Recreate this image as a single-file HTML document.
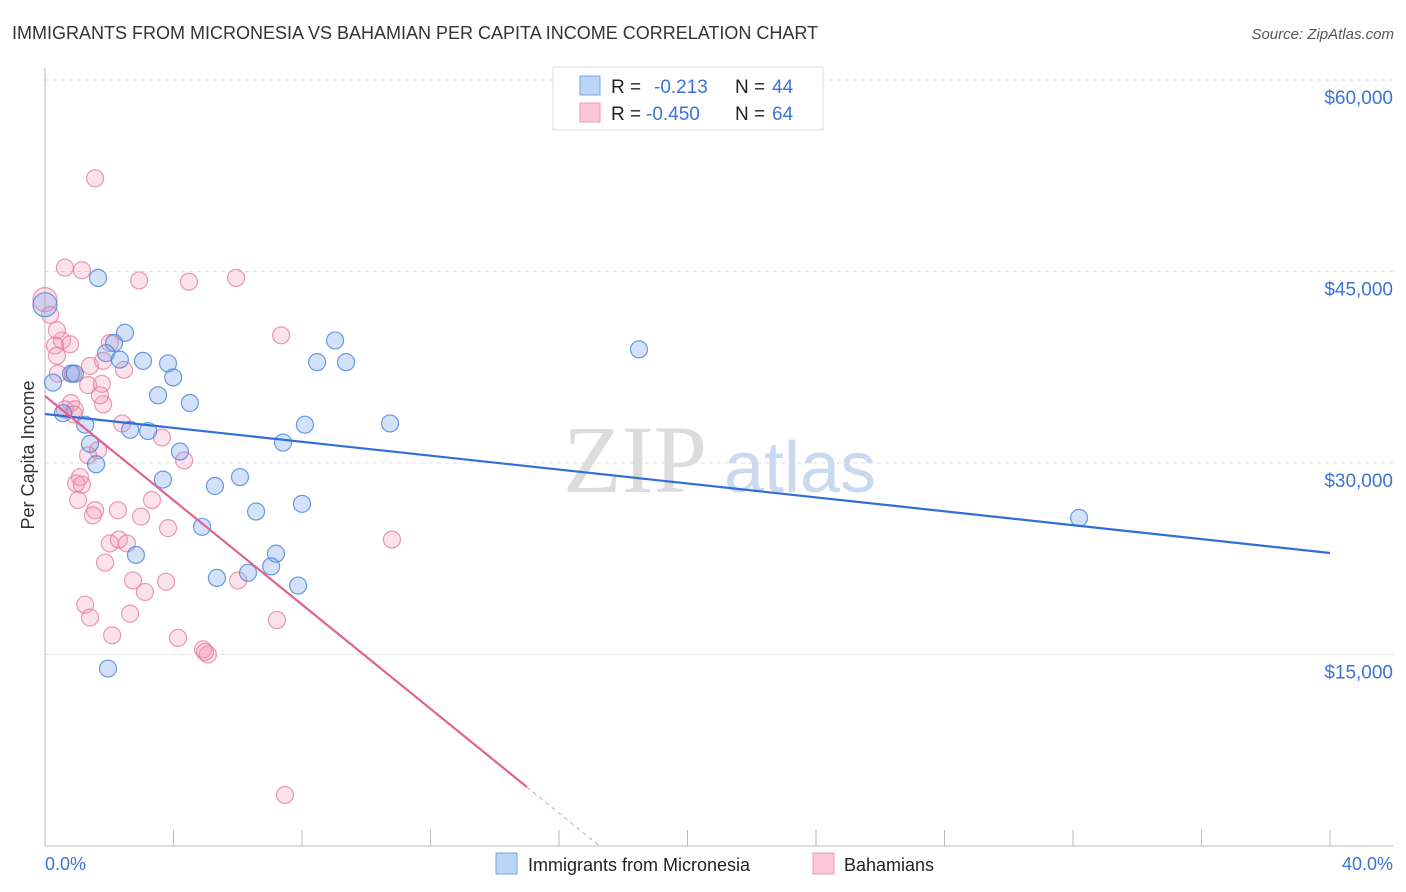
<!DOCTYPE html>
<html><head><meta charset="utf-8">
<style>
body{margin:0;background:#fff;font-family:"Liberation Sans",sans-serif;}
#wrap{position:relative;width:1406px;height:892px;overflow:hidden;}
</style></head>
<body>
<div id="wrap">
<svg id="chart" width="1406" height="892">
<text x="12" y="39" font-size="18" fill="#333">IMMIGRANTS FROM MICRONESIA VS BAHAMIAN PER CAPITA INCOME CORRELATION CHART</text>
<text x="1394" y="39" font-size="15" fill="#555" font-style="italic" text-anchor="end">Source: ZipAtlas.com</text>
<text x="635" y="492" font-size="96" fill="#dcdcdc" font-family="Liberation Serif,serif" text-anchor="middle">ZIP</text>
<text x="800" y="492" font-size="72" fill="#c9d9f0" text-anchor="middle">atlas</text>
<g id="grid"></g>
<g id="marks"></g>
<text transform="translate(34,455) rotate(-90)" font-size="18" fill="#333" text-anchor="middle">Per Capita Income</text>
<text x="45" y="870" font-size="18" fill="#3b73d6">0.0%</text>
<text x="1393" y="870" font-size="18" fill="#3b73d6" text-anchor="end">40.0%</text>
<g>
<rect x="553" y="67" width="270" height="63" fill="#fff" stroke="#ddd"/>
<rect x="580" y="76" width="20" height="19" fill="#bcd4f6" stroke="#7aa6e6"/>
<rect x="580" y="103" width="20" height="19" fill="#fbc8d8" stroke="#ef9ab5"/>
<text x="611" y="93" font-size="19" fill="#222">R = </text><text x="654" y="93" font-size="19" fill="#3b73d6">-0.213</text>
<text x="735" y="93" font-size="19" fill="#222">N = </text><text x="772" y="93" font-size="19" fill="#3b73d6">44</text>
<text x="611" y="120" font-size="19" fill="#222">R = </text><text x="646" y="120" font-size="19" fill="#3b73d6">-0.450</text>
<text x="735" y="120" font-size="19" fill="#222">N = </text><text x="772" y="120" font-size="19" fill="#3b73d6">64</text>
</g>
<g>
<rect x="496" y="853" width="21" height="21" fill="#bcd4f6" stroke="#7aa6e6"/>
<text x="528" y="871" font-size="18" fill="#222">Immigrants from Micronesia</text>
<rect x="813" y="853" width="21" height="21" fill="#fbc8d8" stroke="#ef9ab5"/>
<text x="844" y="871" font-size="18" fill="#222">Bahamians</text>
</g>
</svg>
</div>
<script>
const blueX=[0,1.65,2.49,2.15,1.9,2.33,3.05,3.83,3.99,3.52,4.51,0.25,0.81,0.93,0.56,1.25,2.65,3.21,1.4,4.2,1.59,3.67,5.29,6.07,6.57,7.41,8.09,8.47,9.03,9.37,8.0,10.74,18.49,32.19,4.89,2.83,5.35,6.32,7.19,7.04,7.88,1.96];
const blueY=[42400,44500,40200,39400,38600,38100,38000,37800,36700,35300,34700,36300,37000,37000,33900,33000,32600,32500,31500,30900,29900,28700,28200,28900,26200,31600,33000,37900,39600,37900,26800,33100,38900,25700,25000,22800,21000,21400,22900,21900,20400,13900];
const pinkX=[1.56,0.62,1.15,2.93,4.48,5.95,0,0.16,7.35,0.53,0.78,0.31,2.02,0.37,1.4,1.81,2.46,0.4,0.87,1.34,1.77,0.81,0.62,0.93,1.81,0.9,2.4,3.64,1.65,4.33,1.34,1.09,0.97,1.15,1.03,3.33,1.56,2.99,1.49,2.27,2.02,2.3,2.55,1.87,3.83,2.74,3.77,3.11,6.01,1.25,1.4,2.65,7.22,2.09,4.14,4.92,5.07,4.98,10.8,7.47,0.37,1.71];
const pinkY=[52300,45300,45100,44300,44200,44500,42800,41600,40000,39600,39300,39200,39400,38400,37600,38000,37300,37000,37000,36100,36200,34700,34200,34200,34600,33800,33100,32000,31000,30200,30600,28900,28400,28300,27100,27100,26300,25800,25900,26300,23700,24000,23700,22200,24900,20800,20700,19900,20800,18900,17900,18200,17700,16500,16300,15400,15000,15200,24000,4000,40400,35300];
const yTicks=[15000,30000,45000,60000];
const yTickLabels=["$15,000","$30,000","$45,000","$60,000"];
const xTicks=[0,4,8,12,16,20,24,28,32,36,40];
const blueLine=[33840,22950]; // value at x=0 and x=40
const pinkLine=[35250,-2042]; // intercept, slope per %
const pinkSolidEnd=15.0;

const NS="http://www.w3.org/2000/svg";
const X=v=>45+v/40*1285;
const Y=v=>80+(60000-v)*191.5/15000;
function mk(tag,attrs,parent){const e=document.createElementNS(NS,tag);for(const k in attrs)e.setAttribute(k,attrs[k]);parent.appendChild(e);return e;}
const grid=document.getElementById('grid'),marks=document.getElementById('marks');
yTicks.forEach((t,i)=>{
  const l=mk('line',{x1:45,x2:1393,y1:Y(t),y2:Y(t),stroke:'#ddd','stroke-dasharray':'4,4'},grid);
  
  
  const tx=mk('text',{x:1393,y:Y(t)+24,'font-size':19,fill:'#3b73d6','text-anchor':'end'},grid);
  tx.textContent=yTickLabels[i];
  
  
});
const ax=mk('line',{x1:45,x2:45,y1:68,y2:846,stroke:'#bbb'},grid);


const axb=mk('line',{x1:45,x2:1393,y1:846,y2:846,stroke:'#bbb'},grid);


xTicks.forEach(t=>{
  const l=mk('line',{x1:X(t),x2:X(t),y1:830,y2:846,stroke:'#bbb'},grid);
  
  
});
function pts(xs,ys,fill,stroke,name){
  xs.forEach((x,i)=>{
    const big=(x===0);
    const c=mk('circle',{cx:X(x),cy:Y(ys[i]),r:big?12:8.5,fill:fill,stroke:stroke,'stroke-width':1.2},marks);
    
    
  });
}
pts(pinkX,pinkY,'rgba(244,150,180,0.28)','rgba(230,120,155,0.75)','bahamians-point');
pts(blueX,blueY,'rgba(120,165,235,0.32)','rgba(70,130,220,0.8)','micronesia-point');
const bl=mk('line',{x1:X(0),y1:Y(blueLine[0]),x2:X(40),y2:Y(blueLine[1]),stroke:'#2f6fd6','stroke-width':2.2},marks);


const pv=x=>pinkLine[0]+pinkLine[1]*x;
const pl=mk('line',{x1:X(0),y1:Y(pv(0)),x2:X(pinkSolidEnd),y2:Y(pv(pinkSolidEnd)),stroke:'#e0628f','stroke-width':2.2},marks);


const zx=-pinkLine[0]/pinkLine[1];
const pd=mk('line',{x1:X(pinkSolidEnd),y1:Y(pv(pinkSolidEnd)),x2:X(zx),y2:Y(0),stroke:'#e79ab5','stroke-width':1,'stroke-dasharray':'4,4'},marks);


</script>
</body></html>
